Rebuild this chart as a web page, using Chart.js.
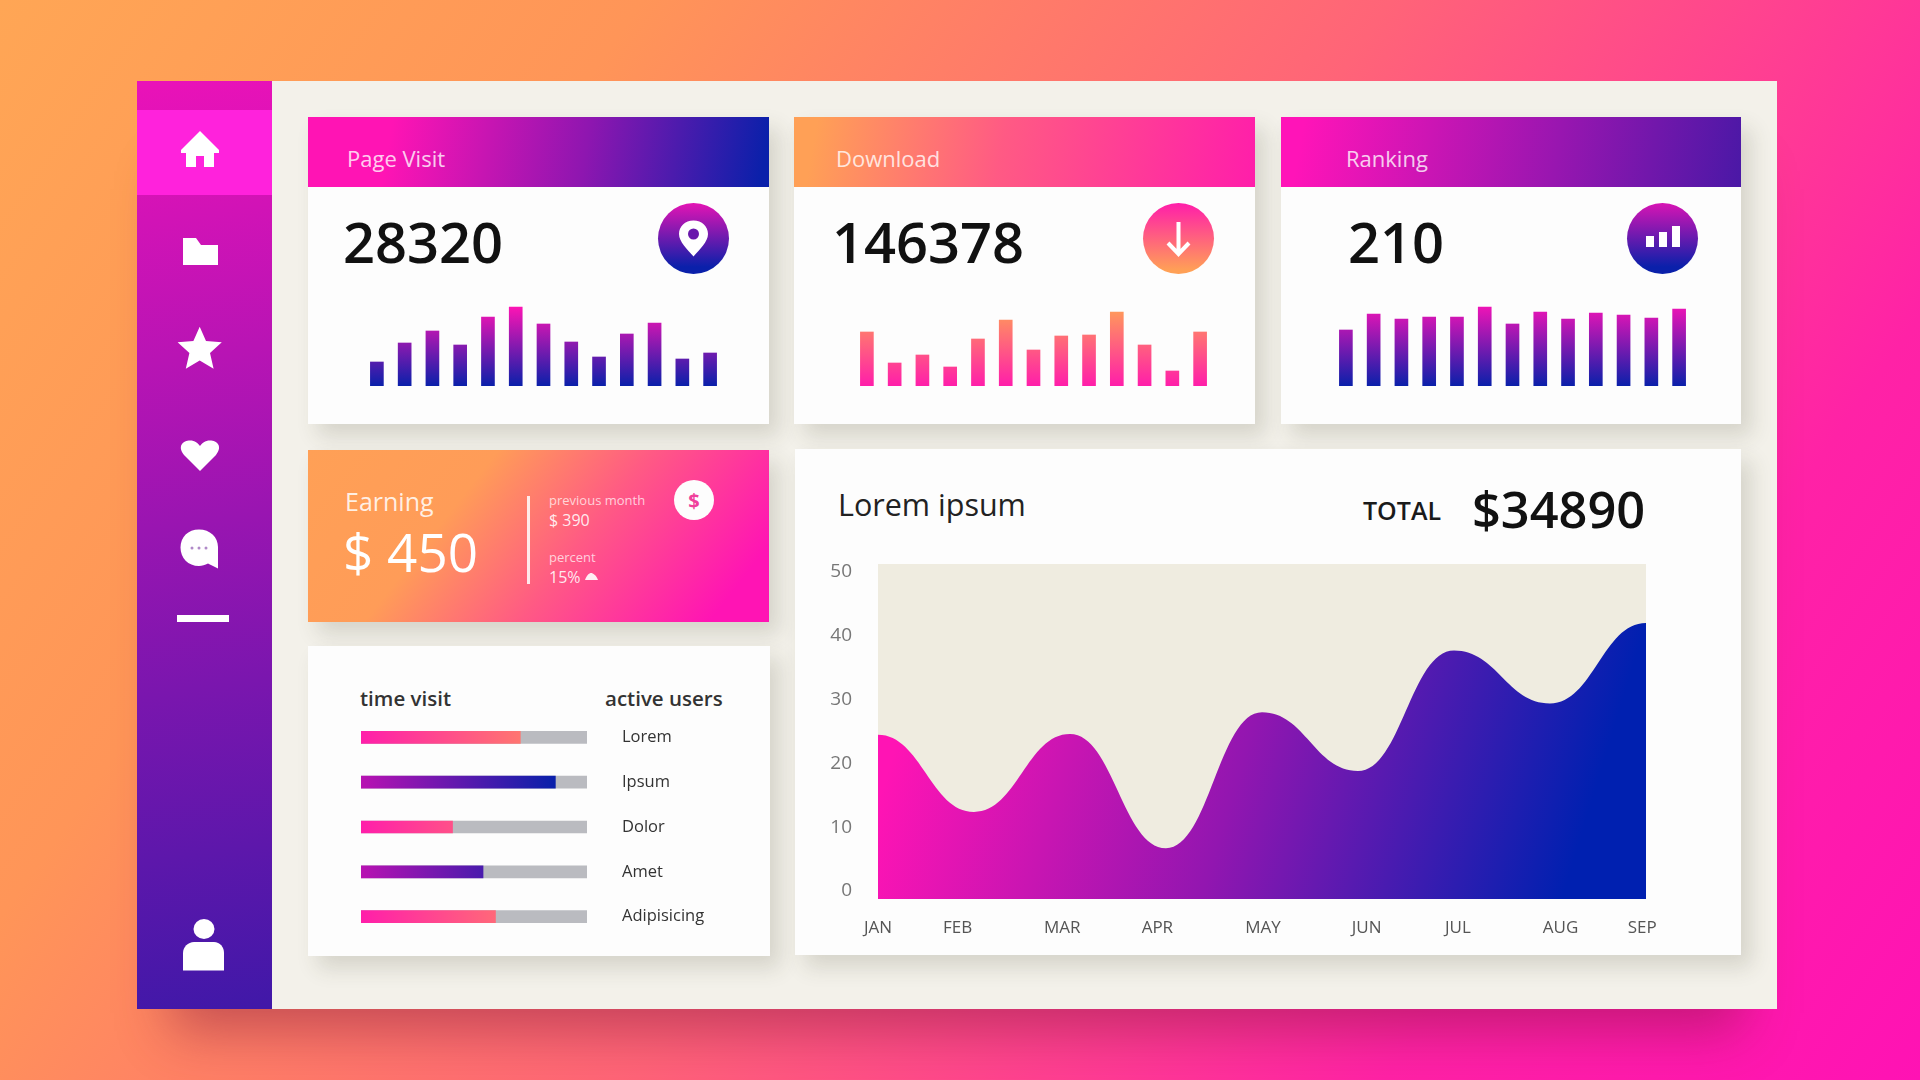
<!DOCTYPE html>
<html>
<head>
<meta charset="utf-8">
<title>Dashboard</title>
<script src="https://cdn.jsdelivr.net/npm/chart.js@4/dist/chart.umd.js"></script>
<style>
    html, body { margin: 0; padding: 0; }
    body {
        width: 1920px; height: 1080px; overflow: hidden; position: relative;
        font-family: "Open Sans", sans-serif;
        background: linear-gradient(125deg, #ffa655 0%, #ff9558 24%, #ff6478 52%, #ff22a6 80%, #ff12b4 100%);
    }
    .box { position: absolute; }
    .t { position: absolute; white-space: nowrap; transform: translateY(-50%); }
    canvas { position: absolute; }
    svg { position: absolute; overflow: visible; }

    #panel { left: 137px; top: 81px; width: 1640px; height: 928px; background: #f3f1ea; box-shadow: 0 56px 50px -34px rgba(130, 20, 60, .45); }
    #side { left: 137px; top: 81px; width: 135px; height: 928px; background: linear-gradient(172deg, #ea12b8 0%, #b814b4 30%, #7a16ae 65%, #4018a8 100%); }
    #active { left: 137px; top: 110px; width: 135px; height: 85px; background: #ff22dc; }

    .card { position: absolute; background: #fdfdfd; box-shadow: 10px 12px 20px rgba(60, 60, 40, .16); }
    .head { position: absolute; top: 117px; height: 70px; }
    .htxt { color: rgba(255, 255, 255, .8); font-size: 22px; top: 158px; }
    .num { color: #111; font-size: 56px; font-weight: 600; top: 241px; }
    .dot { position: absolute; top: 203px; width: 71px; height: 71px; border-radius: 50%; }
    .rowhead { color: #333; font-size: 20.5px; font-weight: 600; top: 698px; }
    .small { color: rgba(255, 255, 255, .72); font-size: 13px; }
    .val { color: rgba(255, 255, 255, .88); font-size: 16px; }
</style>
</head>
<body>

<div class="box" id="panel"></div>
<div class="box" id="side"></div>
<div class="box" id="active"></div>

<!-- sidebar icons -->
<svg width="135" height="928" style="left:137px;top:81px" fill="#fff">
    <path d="M63 50 L44 69 L44 72 L49 72 L49 86 L59 86 L59 75 L67 75 L67 86 L77 86 L77 72 L82 72 L82 69 Z"/>
    <path d="M46 157 L59 157 L64 164 L81 164 L81 184 L46 184 Z"/>
    <path d="M62.7 245.7 L69 260 L84.8 261.3 L73 272 L76.6 287.7 L62.7 279.5 L48.8 287.7 L52.4 272 L40.6 261.3 L56.4 260 Z"/>
    <path d="M63 390 L47 374 C40 365 46 359.500 53 359.500 C58 359.500 61 362 63 365 C65 362 68 359.500 73 359.500 C80 359.500 86 365 79 374 Z"/>
    <path d="M62 448.500 C73 448.500 81 456 81 466 L81 487.500 L71 482.500 C68 484 65 485 62 485 C51 485 43.500 477 43.500 466.500 C43.500 456 51 448.500 62 448.500 Z"/>
    <circle cx="55" cy="467" r="1.500" fill="#b08ac8"/><circle cx="62" cy="467" r="1.500" fill="#b08ac8"/><circle cx="69" cy="467" r="1.500" fill="#b08ac8"/>
    <rect x="40" y="534" width="52" height="7"/>
    <ellipse cx="67" cy="848" rx="10.500" ry="10"/>
    <path d="M46 889.500 L46 872 C46 866 51 861 57 861 L77 861 C83 861 87 866 87 872 L87 889.500 Z"/>
</svg>

<!-- top cards -->
<div class="card" style="left:308px;top:117px;width:461px;height:307px"></div>
<div class="card" style="left:794px;top:117px;width:461px;height:307px"></div>
<div class="card" style="left:1281px;top:117px;width:460px;height:307px"></div>
<div class="head" style="left:308px;width:461px;background:linear-gradient(100deg,#ff14b4 18%,#8e16b0 60%,#0a20aa 98%)"></div>
<div class="head" style="left:794px;width:461px;background:linear-gradient(100deg,#ffa056 5%,#ff5a84 45%,#ff1eaa 100%)"></div>
<div class="head" style="left:1281px;width:460px;background:linear-gradient(100deg,#ff14b8 5%,#9816b0 60%,#4a18a6 100%)"></div>

<div class="t htxt" style="left:347px">Page Visit</div>
<div class="t htxt" style="left:836px">Download</div>
<div class="t htxt" style="left:1346px">Ranking</div>
<div class="t num" style="left:343px">28320</div>
<div class="t num" style="left:832px">146378</div>
<div class="t num" style="left:1348px">210</div>

<div class="dot" style="left:658px;background:linear-gradient(180deg,#e414b4,#0a20aa 90%)"></div>
<div class="dot" style="left:1143px;background:linear-gradient(180deg,#ff1eaa,#ffa056 95%)"></div>
<div class="dot" style="left:1627px;background:linear-gradient(180deg,#d814b4,#0a20aa 90%)"></div>
<svg width="71" height="71" style="left:658px;top:203px">
    <path d="M35.500 17.500 C27 17.500 21 23.500 21 31 C21 39 30 47 35.500 53.500 C41 47 50 39 50 31 C50 23.500 44 17.500 35.500 17.500 Z" fill="#fff"/>
    <circle cx="35.500" cy="31" r="5.500" fill="#6a18ac"/>
</svg>
<svg width="71" height="71" style="left:1143px;top:203px">
    <path d="M35.500 19 L35.500 50 M25 40 L35.500 51 L46 40" fill="none" stroke="#fff" stroke-width="4"/>
</svg>
<svg width="71" height="71" style="left:1627px;top:203px" fill="#fff">
    <rect x="19" y="33" width="8" height="11"/><rect x="32" y="29" width="8" height="15"/><rect x="45" y="23" width="8" height="21"/>
</svg>

<canvas id="barsVisit" width="361" height="80" style="left:363px;top:306px"></canvas>
<canvas id="barsDownload" width="361" height="80" style="left:853px;top:306px"></canvas>
<canvas id="barsRanking" width="361" height="80" style="left:1332px;top:306px"></canvas>

<!-- earning -->
<div class="card" style="left:308px;top:450px;width:461px;height:172px;background:linear-gradient(128deg,#ffa056 0%,#ff9c58 32%,#ff5a84 58%,#ff14b4 90%)"></div>
<div class="t" style="left:345px;top:501px;font-size:25px;color:rgba(255,255,255,.85)">Earning</div>
<div class="t" style="left:343px;top:551px;font-size:53px;font-weight:500;color:#fff">$ 450</div>
<div class="box" style="left:527px;top:496px;width:3px;height:88px;background:rgba(255,255,255,.85)"></div>
<div class="t small" style="left:549px;top:500px">previous month</div>
<div class="t val" style="left:549px;top:520px">$ 390</div>
<div class="t small" style="left:549px;top:557px">percent</div>
<div class="t val" style="left:549px;top:577px">15%</div>
<svg width="14" height="8" style="left:585px;top:573px"><path d="M0 7 C2 1 5 0 6 0 C8 0 11 2 13 7 Z" fill="rgba(255,255,255,.9)"/></svg>
<div class="box" style="left:674px;top:480px;width:40px;height:40px;border-radius:50%;background:#fdfdfd"></div>
<div class="t" style="left:694px;top:500px;font-size:20px;font-weight:700;color:#f0409c;transform:translate(-50%,-50%)">$</div>

<!-- time visit list -->
<div class="card" style="left:308px;top:646px;width:462px;height:310px"></div>
<div class="t rowhead" style="left:360px">time visit</div>
<div class="t rowhead" style="left:605px">active users</div>
<canvas id="listChart" width="400" height="224" style="left:361px;top:715px"></canvas>

<!-- lorem ipsum area -->
<div class="card" style="left:795px;top:449px;width:946px;height:506px"></div>
<div class="t" style="left:838px;top:504px;font-size:30.500px;color:#222">Lorem ipsum</div>
<div class="t" style="left:1363px;top:510px;font-size:25px;font-weight:600;color:#1a1a1a">TOTAL</div>
<div class="t" style="left:1472px;top:508px;font-size:50.500px;font-weight:600;color:#111">$34890</div>
<canvas id="areaChart" width="900" height="410" style="left:800px;top:540px"></canvas>

<script>
/* ── data ────────────────────────────────────────── */
const visitBars    = [24, 43, 55, 41, 69, 79, 62, 44, 29, 52, 63, 27, 33];
const downloadBars = [54, 23, 31, 19, 47, 66, 36, 50, 51, 74, 41, 15, 54];
const rankingBars  = [56, 72, 67, 69, 69, 79, 62, 74, 67, 73, 71, 68, 77];

const listLabels = ['Lorem', 'Ipsum', 'Dolor', 'Amet', 'Adipisicing'];
const listValues = [70.5, 86, 40.5, 54, 59.5];
const listTrack  = [100, 100, 100, 100, 100];

const months     = ['JAN', 'FEB', 'MAR', 'APR', 'MAY', 'JUN', 'JUL', 'AUG', 'SEP'];
const areaValues = [24.5, 12.4, 24.6, 6.7, 28, 18.8, 37.7, 29.4, 42];
const yTicks     = [0, 10, 20, 30, 40, 50];

/* month labels do not sit exactly under their points in the original */
const monthTickAt = [0, 0.83, 1.92, 2.91, 4.01, 5.09, 6.04, 7.11, 7.96];

Chart.defaults.font.family = '"Open Sans", sans-serif';
Chart.defaults.animation = false;
Chart.defaults.responsive = false;

/**
 * Small column chart in the top cards. Gradient runs over the whole plot.
 */
function makeBars(id, data, topColor, bottomColor) {
    new Chart(document.getElementById(id), {
        type: 'bar',
        data: {
            labels: data.map((_, i) => i),
            datasets: [{
                data,
                barThickness: 13,
                backgroundColor: ctx => {
                    const area = ctx.chart.chartArea;
                    if (!area) return bottomColor;
                    const g = ctx.chart.ctx.createLinearGradient(0, area.top, 0, area.bottom);
                    g.addColorStop(0, topColor);
                    g.addColorStop(1, bottomColor);
                    return g;
                }
            }]
        },
        options: {
            plugins: { legend: { display: false }, tooltip: { enabled: false } },
            scales: { x: { display: false }, y: { display: false, min: 0, max: 80 } }
        }
    });
}

makeBars('barsVisit',    visitBars,    '#ff14b4', '#0a20aa');
makeBars('barsDownload', downloadBars, '#ffa056', '#ff1eaa');
makeBars('barsRanking',  rankingBars,  '#f014b6', '#0a20aa');

new Chart(document.getElementById('listChart'), {
    type: 'bar',
    data: {
        labels: listLabels,
        datasets: [
            {
                data: listValues,
                grouped: false,
                barThickness: 12,
                backgroundColor: ctx => {
                    const area = ctx.chart.chartArea;
                    if (!area) return '#ff1eaa';
                    const g = ctx.chart.ctx.createLinearGradient(area.left, 0, area.right, 0);
                    if (ctx.dataIndex % 2) {
                        g.addColorStop(0, '#b812b2'); g.addColorStop(0.85, '#0a20aa');
                    } else {
                        g.addColorStop(0, '#ff1eaa'); g.addColorStop(1, '#ff9a58');
                    }
                    return g;
                }
            },
            { data: listTrack, grouped: false, barThickness: 12, backgroundColor: '#babbc0' }
        ]
    },
    options: {
        indexAxis: 'y',
        plugins: { legend: { display: false }, tooltip: { enabled: false } },
        scales: {
            x: { display: false, min: 0, max: 100 },
            y: {
                position: 'right',
                grid: { display: false },
                border: { display: false },
                // tick padding also eats into the plot height, take that back
                afterFit: s => { s.width = 174; s.paddingTop = 0; s.paddingBottom = 0; },
                ticks: { padding: 27, crossAlign: 'near', color: '#333', font: { size: 16.5 } }
            }
        }
    }
});

const plotBackground = {
    id: 'plotBackground',
    beforeDraw(chart) {
        const a = chart.chartArea;
        chart.ctx.save();
        chart.ctx.fillStyle = '#efece0';
        chart.ctx.fillRect(a.left, a.top, a.width, a.height);
        chart.ctx.restore();
    }
};

/**
 * Every point in the area curve is a peak or a trough, so the handles stay level.
 */
const levelHandles = {
    id: 'levelHandles',
    afterDatasetsUpdate(chart) {
        const line = chart.getDatasetMeta(0).dataset;
        line.updateControlPoints(chart.chartArea);
        const pts = line.points;
        pts.forEach((p, i) => {
            const prev = pts[i - 1] || p, next = pts[i + 1] || p;
            p.cp1x = p.x - (p.x - prev.x) * 0.45; p.cp1y = p.y;
            p.cp2x = p.x + (next.x - p.x) * 0.45; p.cp2y = p.y;
        });
    }
};

new Chart(document.getElementById('areaChart'), {
    type: 'line',
    data: {
        datasets: [{
            data: areaValues.map((v, i) => ({ x: i, y: v })),
            borderWidth: 0,
            pointRadius: 0,
            cubicInterpolationMode: 'monotone',
            fill: 'start',
            backgroundColor: ctx => {
                const a = ctx.chart.chartArea;
                if (!a) return '#8014b0';
                const g = ctx.chart.ctx.createLinearGradient(a.left, a.top + a.height * 0.3, a.right, a.bottom);
                g.addColorStop(0.05, '#ff14b4');
                g.addColorStop(0.47, '#9216b0');
                g.addColorStop(0.9, '#0020b0');
                return g;
            }
        }]
    },
    plugins: [plotBackground, levelHandles],
    options: {
        layout: { padding: { top: 24, right: 54 } },
        plugins: { legend: { display: false }, tooltip: { enabled: false } },
        scales: {
            x: {
                type: 'linear',
                min: 0,
                max: months.length - 1,
                grid: { display: false },
                border: { display: false },
                afterBuildTicks: s => { s.ticks = monthTickAt.map(v => ({ value: v })); },
                afterFit: s => { s.height = 51; },
                ticks: {
                    autoSkip: false, maxRotation: 0, padding: 11,
                    color: '#555', font: { size: 17 },
                    callback: (v, i) => months[i]
                }
            },
            y: {
                min: -1.25,
                max: 51.25,
                grid: { display: false },
                border: { display: false },
                afterBuildTicks: s => { s.ticks = yTicks.map(v => ({ value: v })); },
                afterFit: s => { s.width = 78; s.paddingTop = 0; s.paddingBottom = 0; },
                ticks: { padding: 18, color: '#777', font: { size: 19 } }
            }
        }
    }
});
</script>
</body>
</html>
